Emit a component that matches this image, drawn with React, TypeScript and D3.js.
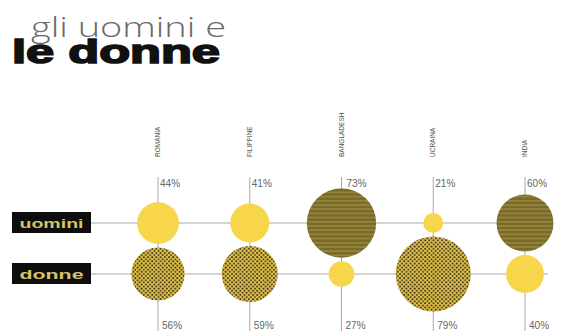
import React from "react";
import * as d3 from "d3";

const countries = ["ROMANIA", "FILIPPINE", "BANGLADESH", "UCRAINA", "INDIA"];
const uomini = [44, 41, 73, 21, 60];
const donne = [56, 59, 27, 79, 40];
const rowLabels = ["uomini", "donne"];

const W = 562;
const H = 336;
const YELLOW = "#f8d64c";
const OLIVE = "#7a6a2b";

export default function App() {
  const x = d3.scalePoint<string>().domain(countries).range([158, 525]);
  const y = d3.scalePoint<string>().domain(rowLabels).range([223, 274]);
  const r = d3.scaleLinear().domain([0, 100]).range([0, 47.5]);

  const fillFor = (row: string, v: number) => {
    if (v < 50) return YELLOW;
    return row === "uomini" ? "url(#stripes)" : "url(#dots)";
  };

  return (
    <svg width={W} height={H} style={{ position: "absolute", left: 0, top: 0, background: "#fff" }}
      fontFamily="'Liberation Sans', Arial, sans-serif">
      <defs>
        <pattern id="stripes" patternUnits="userSpaceOnUse" width={4} height={4.2}>
          <rect width={4} height={4.2} fill={OLIVE} />
          <rect y={2.6} width={4} height={1.6} fill="#978739" />
        </pattern>
        <pattern id="dots" patternUnits="userSpaceOnUse" width={4.2} height={4.2}>
          <rect width={4.2} height={4.2} fill="#e3c34a" />
          <circle cx={1} cy={1} r={0.95} fill="#2e2818" />
          <circle cx={3.1} cy={3.1} r={0.95} fill="#2e2818" />
        </pattern>
      </defs>

      {/* title */}
      <text x={31} y={37} fontSize={28} fill="#6a6a6a" fontWeight={300}
        fontFamily="'Open Sans', 'Liberation Sans', sans-serif"
        textLength={195} lengthAdjust="spacingAndGlyphs">gli uomini e</text>
      <text x={12} y={63} fontSize={33} fill="#111" fontWeight={900}
        textLength={208} lengthAdjust="spacingAndGlyphs"
        stroke="#111" strokeWidth={1.6}>le donne</text>

      {/* horizontal row lines */}
      {rowLabels.map((row) => (
        <line key={row} x1={91} x2={548} y1={y(row)} y2={y(row)} stroke="#a9a9a9" strokeWidth={1} />
      ))}

      {/* vertical column lines */}
      {countries.map((c) => (
        <line key={c} x1={x(c)} x2={x(c)} y1={177} y2={331} stroke="#a9a9a9" strokeWidth={1} />
      ))}

      {/* country labels */}
      {countries.map((c) => (
        <text key={c} transform={`translate(${(x(c) as number) + 2},157) rotate(-90)`}
          fontSize={6.5} fill="#555" textAnchor="start">{c}</text>
      ))}

      {/* row label boxes */}
      {rowLabels.map((row) => (
        <g key={row}>
          <rect x={12} y={(y(row) as number) - 11} width={79} height={21} fill="#0d0d0d" />
          <text x={51.5} y={(y(row) as number) + 4.5} fontSize={13} fontWeight={700}
            fill="#d4c46a" textAnchor="middle" textLength={64} lengthAdjust="spacingAndGlyphs">{row}</text>
        </g>
      ))}

      {/* circles */}
      {countries.map((c, i) => (
        <g key={c}>
          <circle cx={x(c)} cy={y("uomini")} r={r(uomini[i])} fill={fillFor("uomini", uomini[i])} />
          <circle cx={x(c)} cy={y("donne")} r={r(donne[i])} fill={fillFor("donne", donne[i])} />
        </g>
      ))}

      {/* percent labels */}
      {countries.map((c, i) => (
        <g key={c}>
          <text x={(x(c) as number) + (uomini[i] > 70 ? 5 : 2)} y={187} fontSize={10} fill="#666">
            {uomini[i]}%
          </text>
          <text x={(x(c) as number) + 4} y={329} fontSize={10} fill="#666">
            {donne[i]}%
          </text>
        </g>
      ))}
    </svg>
  );
}
